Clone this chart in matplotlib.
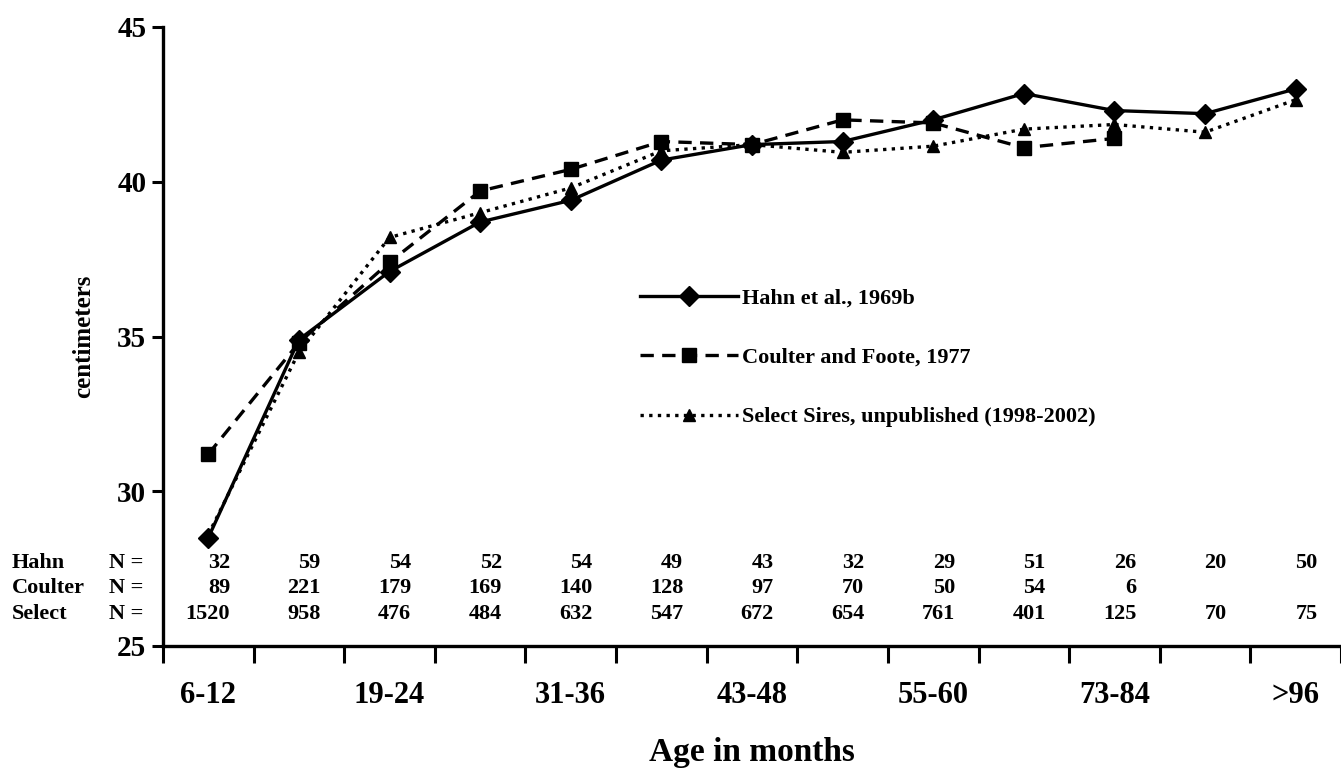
import matplotlib
matplotlib.use("Agg")
import matplotlib.pyplot as plt
import matplotlib.transforms as mtransforms
import numpy as np

# ---- data ----
categories = ["6-12", "13-18", "19-24", "25-30", "31-36", "37-42", "43-48",
              "49-54", "55-60", "61-72", "73-84", "85-96", ">96"]
shown_labels = ["6-12", "19-24", "31-36", "43-48", "55-60", "73-84", ">96"]

hahn = [28.5, 34.9, 37.1, 38.7, 39.4, 40.7, 41.2, 41.3, 42.0, 42.85, 42.3, 42.2, 43.0]
coulter = [31.2, 34.8, 37.4, 39.7, 40.4, 41.3, 41.2, 42.0, 41.9, 41.1, 41.4, None, None]
select = [28.6, 34.5, 38.2, 39.0, 39.8, 41.0, 41.2, 40.95, 41.15, 41.7, 41.85, 41.6, 42.65]

n_hahn = ["32", "59", "54", "52", "54", "49", "43", "32", "29", "51", "26", "20", "50"]
n_coulter = ["89", "221", "179", "169", "140", "128", "97", "70", "50", "54", "6", "", ""]
n_select = ["1520", "958", "476", "484", "632", "547", "672", "654", "761", "401", "125", "70", "75"]

series_labels = ["Hahn et al., 1969b", "Coulter and Foote, 1977",
                 "Select Sires, unpublished (1998-2002)"]
row_names = ["Hahn", "Coulter", "Select"]

# ---- figure ----
plt.rcParams['font.family'] = ['Liberation Serif', 'DejaVu Serif']
plt.rcParams['font.weight'] = 'bold'
plt.rcParams['axes.labelweight'] = 'bold'

W, H = 1341, 776
fig = plt.figure(figsize=(W / 100, H / 100), dpi=100)
ax = fig.add_axes([163 / W, 1 - 646 / H, (W - 163) / W, (646 - 27) / H])

x = np.arange(len(categories))

def to_arr(v):
    return np.array([np.nan if a is None else a for a in v], dtype=float)

ax.plot(x, to_arr(select), color='black', lw=2.4, ls=(0, (1, 1.6)), marker='^', ms=8.5,
        label=series_labels[2], zorder=3)
ax.plot(x, to_arr(coulter), color='black', lw=2.4, ls=(0, (4, 2.5)), marker='s', ms=10,
        label=series_labels[1], zorder=3)
ax.plot(x, to_arr(hahn), color='black', lw=2.4, ls='-', marker='D', ms=10.5,
        label=series_labels[0], zorder=4)

ax.set_xlim(-0.5, len(categories) - 0.5)
ax.set_ylim(25, 45)

for s in ['top', 'right']:
    ax.spines[s].set_visible(False)
for s in ['left', 'bottom']:
    ax.spines[s].set_linewidth(2.4)

ax.set_yticks([25, 30, 35, 40, 45])
ax.tick_params(axis='y', direction='out', length=8, width=2.2, labelsize=21, pad=4)

ax.set_xticks(np.arange(-0.5, len(categories) + 0.5, 1.0))
ax.set_xticklabels([])
ax.tick_params(axis='x', which='major', direction='out', length=12, width=2.2)
label_pos = [categories.index(c) for c in shown_labels]
ax.set_xticks(label_pos, minor=True)
ax.set_xticklabels(shown_labels, minor=True)
ax.tick_params(axis='x', which='minor', length=0, labelsize=22, pad=25)

ax.set_ylabel("centimeters", fontsize=18, labelpad=16)
ax.set_xlabel("Age in months", fontsize=24, labelpad=20)

# N table
row_y = [27.68, 26.87, 26.03]
rows = [n_hahn, n_coulter, n_select]
trans = mtransforms.blended_transform_factory(fig.transFigure, ax.transData)
for name, yv, vals in zip(row_names, row_y, rows):
    ax.text(12 / W, yv, name, transform=trans, fontsize=16, va='center', ha='left')
    ax.text(109 / W, yv, "N =", transform=trans, fontsize=16, va='center', ha='left')
    for i, v in enumerate(vals):
        if v:
            ax.text(i + 0.24, yv, v, fontsize=16, va='center', ha='right')

handles, labels = ax.get_legend_handles_labels()
order = [2, 1, 0]
ax.legend([handles[i] for i in order], [labels[i] for i in order],
          loc='upper left', bbox_to_anchor=(640 / W, 1 - 288 / H),
          bbox_transform=fig.transFigure, frameon=False, fontsize=16,
          handlelength=4.4, handletextpad=0.2, labelspacing=1.75,
          borderpad=0, borderaxespad=0)

fig.savefig("out.png", dpi=100)
